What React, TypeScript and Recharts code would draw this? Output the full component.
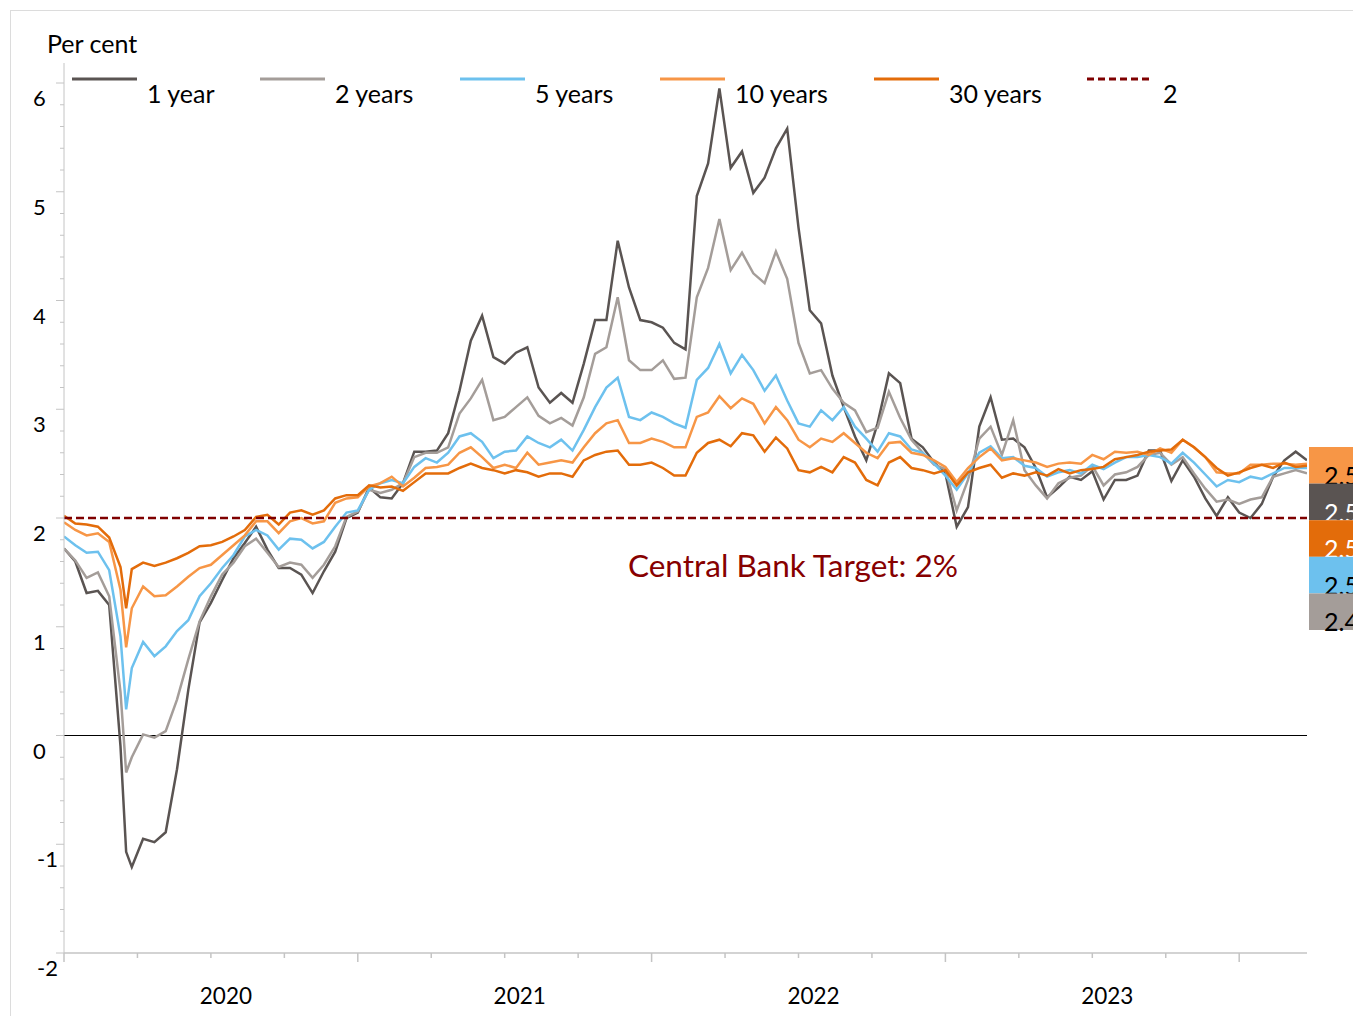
import React from 'react';
import { LineChart, Line, XAxis, YAxis, ReferenceLine } from 'recharts';

// Week index since the start of 2020 (fortnightly observations, one extra week around the March 2020 trough)
const weeks: number[] = [0, 2, 4, 6, 8, 10, 11, ...Array.from({ length: 105 }, (_, k) => 12 + 2 * k)];

const oneYear = [
  1.72, 1.60, 1.31, 1.33, 1.20, -0.10,
  -1.07,
  -1.21, -0.95, -0.98, -0.89, -0.31,
  0.42, 1.04, 1.22, 1.43, 1.63, 1.77, 1.92, 1.71, 1.54, 1.54,
  1.48, 1.31, 1.51, 1.69, 2.00, 2.05, 2.28, 2.19, 2.18, 2.32,
  2.61, 2.61, 2.62, 2.78, 3.17, 3.63, 3.86, 3.48, 3.42, 3.52,
  3.57, 3.20, 3.06, 3.15, 3.06, 3.42, 3.82, 3.82, 4.55, 4.12,
  3.82, 3.80, 3.75, 3.61, 3.55, 4.96, 5.26, 5.95, 5.22, 5.37,
  4.99, 5.13, 5.40, 5.58, 4.67, 3.91, 3.79, 3.31, 3.02, 2.75,
  2.53, 2.87, 3.33, 3.24, 2.73, 2.65, 2.51, 2.41, 1.92, 2.10,
  2.84, 3.11, 2.72, 2.73, 2.65, 2.46, 2.19, 2.28, 2.38, 2.35,
  2.43, 2.17, 2.35, 2.35, 2.39, 2.62, 2.62, 2.34, 2.53, 2.38,
  2.18, 2.02, 2.19, 2.05, 2.00, 2.13, 2.38, 2.53, 2.61, 2.53,
];

const twoYears = [
  1.72, 1.61, 1.45, 1.50, 1.28, 0.40,
  -0.34,
  -0.20, 0.01, -0.02, 0.04, 0.33,
  0.70, 1.05, 1.28, 1.48, 1.59, 1.74, 1.81, 1.68, 1.55, 1.59,
  1.57, 1.45, 1.57, 1.74, 2.01, 2.06, 2.26, 2.23, 2.26, 2.32,
  2.56, 2.60, 2.60, 2.65, 2.96, 3.10, 3.27, 2.90, 2.93, 3.02,
  3.11, 2.94, 2.87, 2.92, 2.85, 3.11, 3.51, 3.57, 4.03, 3.45,
  3.36, 3.36, 3.45, 3.28, 3.29, 4.03, 4.30, 4.75, 4.28, 4.44,
  4.25, 4.16, 4.45, 4.20, 3.61, 3.33, 3.36, 3.19, 3.06, 2.99,
  2.79, 2.83, 3.16, 2.92, 2.72, 2.60, 2.49, 2.45, 2.07, 2.35,
  2.73, 2.84, 2.58, 2.90, 2.44, 2.30, 2.18, 2.32, 2.37, 2.39,
  2.48, 2.30, 2.40, 2.42, 2.47, 2.58, 2.60, 2.49, 2.56, 2.41,
  2.27, 2.15, 2.17, 2.13, 2.17, 2.19, 2.38, 2.41, 2.44, 2.41,
];

const fiveYears = [
  1.83, 1.75, 1.68, 1.69, 1.52, 0.91,
  0.24,
  0.62, 0.86, 0.73, 0.82, 0.96,
  1.06, 1.28, 1.40, 1.54, 1.66, 1.83, 1.89, 1.84, 1.71, 1.81,
  1.80, 1.72, 1.78, 1.92, 2.05, 2.07, 2.26, 2.32, 2.35, 2.32,
  2.47, 2.55, 2.51, 2.60, 2.75, 2.78, 2.70, 2.55, 2.61, 2.62,
  2.75, 2.69, 2.65, 2.72, 2.62, 2.81, 3.02, 3.20, 3.29, 2.93,
  2.90, 2.97, 2.93, 2.87, 2.83, 3.27, 3.38, 3.60, 3.33, 3.50,
  3.36, 3.17, 3.31, 3.08, 2.87, 2.84, 2.99, 2.90, 3.02, 2.84,
  2.73, 2.61, 2.78, 2.75, 2.63, 2.60, 2.50, 2.39, 2.26, 2.41,
  2.60, 2.66, 2.55, 2.56, 2.48, 2.46, 2.38, 2.42, 2.44, 2.41,
  2.49, 2.45, 2.51, 2.56, 2.56, 2.58, 2.56, 2.50, 2.60, 2.51,
  2.40, 2.29, 2.35, 2.33, 2.38, 2.36, 2.41, 2.46, 2.46, 2.46,
];

const tenYears = [
  1.96, 1.89, 1.84, 1.86, 1.78, 1.34,
  0.81,
  1.17, 1.37, 1.28, 1.29, 1.37,
  1.46, 1.54, 1.57, 1.66, 1.75, 1.84, 1.97, 1.97, 1.86, 1.97,
  2.00, 1.95, 1.97, 2.14, 2.18, 2.19, 2.29, 2.32, 2.38, 2.29,
  2.37, 2.46, 2.47, 2.49, 2.60, 2.65, 2.56, 2.46, 2.49, 2.46,
  2.60, 2.49, 2.51, 2.53, 2.51, 2.65, 2.78, 2.87, 2.90, 2.69,
  2.69, 2.73, 2.70, 2.65, 2.65, 2.93, 2.97, 3.12, 3.01, 3.10,
  3.05, 2.87, 3.02, 2.90, 2.72, 2.65, 2.73, 2.70, 2.78, 2.69,
  2.60, 2.55, 2.69, 2.70, 2.60, 2.58, 2.53, 2.47, 2.33, 2.46,
  2.56, 2.64, 2.53, 2.55, 2.53, 2.51, 2.47, 2.50, 2.51, 2.50,
  2.58, 2.54, 2.61, 2.60, 2.61, 2.58, 2.64, 2.60, 2.72, 2.65,
  2.56, 2.42, 2.41, 2.41, 2.49, 2.49, 2.50, 2.50, 2.49, 2.50,
];

const thirtyYears = [
  2.02, 1.95, 1.94, 1.92, 1.82, 1.55,
  1.17,
  1.53, 1.59, 1.56, 1.59, 1.63,
  1.68, 1.74, 1.75, 1.78, 1.83, 1.89, 2.01, 2.03, 1.94, 2.05,
  2.07, 2.03, 2.07, 2.18, 2.21, 2.21, 2.30, 2.28, 2.29, 2.25,
  2.33, 2.41, 2.41, 2.41, 2.46, 2.50, 2.46, 2.44, 2.41, 2.44,
  2.42, 2.38, 2.41, 2.41, 2.38, 2.53, 2.58, 2.61, 2.62, 2.49,
  2.49, 2.51, 2.46, 2.39, 2.39, 2.60, 2.69, 2.72, 2.66, 2.78,
  2.76, 2.61, 2.74, 2.64, 2.44, 2.42, 2.47, 2.42, 2.56, 2.51,
  2.35, 2.30, 2.51, 2.56, 2.46, 2.44, 2.41, 2.44, 2.30, 2.42,
  2.46, 2.49, 2.37, 2.41, 2.39, 2.42, 2.39, 2.45, 2.41, 2.44,
  2.45, 2.47, 2.54, 2.56, 2.58, 2.61, 2.62, 2.63, 2.72, 2.65,
  2.56, 2.46, 2.39, 2.42, 2.46, 2.49, 2.46, 2.51, 2.47, 2.48,
];

const target = 2;
const yearLabels = ['2020', '2021', '2022', '2023'];
const xTicks = [0, 13, 26, 39, 52, 65, 78, 91, 104, 117, 130, 143, 156, 169, 182, 195, 208];
const yMajorTicks = [-2, -1, 0, 1, 2, 3, 4, 5, 6];
const yTicks = Array.from({ length: 41 }, (_, k) => Math.round((-2 + k * 0.2) * 10) / 10);

const COLORS = {
  y1: '#5a5452',
  y2: '#a49d99',
  y5: '#6dc1ee',
  y10: '#f79646',
  y30: '#e36c0a',
  target: '#7f0000',
};

const series = [
  { key: 'y1', name: '1 year', values: oneYear, color: COLORS.y1 },
  { key: 'y2', name: '2 years', values: twoYears, color: COLORS.y2 },
  { key: 'y5', name: '5 years', values: fiveYears, color: COLORS.y5 },
  { key: 'y10', name: '10 years', values: tenYears, color: COLORS.y10 },
  { key: 'y30', name: '30 years', values: thirtyYears, color: COLORS.y30 },
];

const rows = weeks.map((w, i) => {
  const r: Record<string, number> = { week: w };
  series.forEach((s) => {
    r[s.key] = s.values[i];
  });
  return r;
});

const FONT = "Lato, 'Open Sans', sans-serif";
const AXIS_GRAY = '#c4c4c4';

const legendItems = [
  { name: '1 year', color: COLORS.y1, lx: 72, tx: 147, dashed: false },
  { name: '2 years', color: COLORS.y2, lx: 260, tx: 335, dashed: false },
  { name: '5 years', color: COLORS.y5, lx: 460, tx: 535, dashed: false },
  { name: '10 years', color: COLORS.y10, lx: 660, tx: 735, dashed: false },
  { name: '30 years', color: COLORS.y30, lx: 874, tx: 949, dashed: false },
  { name: String(target), color: COLORS.target, lx: 1087, tx: 1163, dashed: true },
];

// value boxes at the right edge (stacked, as in the original)
const endBoxes = [
  { key: 'y10', fill: COLORS.y10, text: '#000' },
  { key: 'y1', fill: COLORS.y1, text: '#fff' },
  { key: 'y30', fill: COLORS.y30, text: '#fff' },
  { key: 'y5', fill: COLORS.y5, text: '#000' },
  { key: 'y2', fill: COLORS.y2, text: '#000' },
];

const YTick = (props: any) => {
  const { x, y, payload } = props;
  const v = payload.value as number;
  const major = yMajorTicks.some((m) => Math.abs(m - v) < 1e-6);
  return (
    <g>
      <line x1={x - (major ? 8 : 4)} x2={x} y1={y} y2={y} stroke={AXIS_GRAY} strokeWidth={1} />
      {major && (
        <text x={x - (v < 0 ? 27 : 31)} y={y + 23} fontSize={22} fontFamily={FONT} fill="#000">
          {String(Math.round(v))}
        </text>
      )}
    </g>
  );
};

const XTick = (props: any) => {
  const { x, y, payload } = props;
  const v = payload.value as number;
  const yearStart = v % 52 === 0;
  const mid = v % 52 === 26;
  return (
    <g>
      <line x1={x} x2={x} y1={y} y2={y + (yearStart ? 9 : 5)} stroke={AXIS_GRAY} strokeWidth={1.5} />
      {mid && (
        <text x={x + 15} y={y + 51} textAnchor="middle" fontSize={22.5} fontFamily={FONT} fill="#000">
          {yearLabels[(v - 26) / 52]}
        </text>
      )}
    </g>
  );
};

export default function App() {
  const last = rows[rows.length - 1];
  return (
    <div style={{ position: 'absolute', left: 0, top: 0, width: 1353, height: 1016, overflow: 'hidden', background: '#fff' }}>
      <div
        style={{
          position: 'absolute',
          left: 10,
          top: 10,
          width: 1400,
          height: 1100,
          border: '1px solid #dcdcdc',
          boxSizing: 'border-box',
        }}
      />
      <div style={{ position: 'absolute', left: 0, top: 0 }}>
        <LineChart width={1353} height={1016} data={rows} margin={{ top: 63, right: 46, bottom: 33, left: 4 }}>
          <XAxis
            dataKey="week"
            type="number"
            domain={[0, 220]}
            ticks={xTicks}
            interval={0}
            tickLine={false}
            tickSize={0}
            tickMargin={0}
            height={30}
            axisLine={{ stroke: AXIS_GRAY, strokeWidth: 1.5 }}
            tick={<XTick />}
            allowDataOverflow
          />
          <YAxis
            type="number"
            domain={[-2, 6.184]}
            ticks={yTicks}
            interval={0}
            tickLine={false}
            tickSize={0}
            tickMargin={0}
            width={60}
            axisLine={{ stroke: AXIS_GRAY, strokeWidth: 1 }}
            tick={<YTick />}
            allowDataOverflow
          />
          <ReferenceLine y={0} stroke="#000" strokeWidth={1.2} />
          {series.map((s) => (
            <Line
              key={s.key}
              type="linear"
              dataKey={s.key}
              name={s.name}
              stroke={s.color}
              strokeWidth={2.5}
              dot={false}
              activeDot={false}
              isAnimationActive={false}
            />
          ))}
          <ReferenceLine y={target} stroke={COLORS.target} strokeWidth={2.5} strokeDasharray="8 4" />
        </LineChart>
      </div>
      <svg
        width={1353}
        height={1016}
        style={{ position: 'absolute', left: 0, top: 0, pointerEvents: 'none' }}
      >
        <text x={47} y={53} fontSize={25} fontFamily={FONT} fill="#000">
          Per cent
        </text>
        {legendItems.map((l) => (
          <g key={l.name}>
            <line
              x1={l.lx}
              x2={l.lx + 65}
              y1={79}
              y2={79}
              stroke={l.color}
              strokeWidth={3}
              strokeDasharray={l.dashed ? '7 4' : undefined}
            />
            <text x={l.tx} y={103} fontSize={25} fontFamily={FONT} fill="#000">
              {l.name}
            </text>
          </g>
        ))}
        <text x={628} y={577} fontSize={31.5} fontFamily={FONT} fill="#870000">
          Central Bank Target: 2%
        </text>
        {endBoxes.map((b, i) => {
          const top = 447 + i * 36.6;
          return (
            <g key={b.key}>
              <rect x={1309} y={top} width={60} height={36.6} fill={b.fill} />
              <text x={1324} y={top + 38} fontSize={25} fontFamily={FONT} fill={b.text}>
                {Number(last[b.key]).toFixed(1)}
              </text>
            </g>
          );
        })}
      </svg>
    </div>
  );
}
